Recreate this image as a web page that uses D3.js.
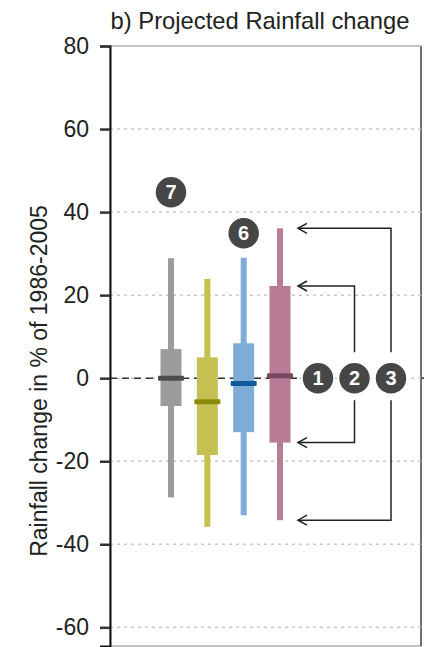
<!DOCTYPE html>
<html>
<head>
<meta charset="utf-8">
<script src="https://cdn.jsdelivr.net/npm/d3@7"></script>
<style>
  html, body { margin: 0; padding: 0; background: #fff; }
  svg { display: block; font-family: "Liberation Sans", Arial, sans-serif; }
</style>
</head>
<body>
<svg id="chart" width="424" height="647"></svg>
<script>
// Projected rainfall change (% of 1986-2005), one box per scenario group
const categories = ["grey", "yellow", "blue", "pink"];
const whiskerLow = [-28.7, -35.8, -33.0, -34.2];
const boxLow     = [-6.7, -18.5, -13.0, -15.5];
const medians    = [0.0, -5.7, -1.3, 0.6];
const boxHigh    = [7.0, 5.0, 8.4, 22.2];
const whiskerHigh= [28.9, 23.9, 29.0, 36.1];
const boxColors    = ["#9c9c9c", "#c4c152", "#7eabd8", "#b77b95"];
const medianColors = ["#4d4d4d", "#8c8a0c", "#12589a", "#7b4660"];
const yTicks = [80, 60, 40, 20, 0, -20, -40, -60];

// numbered markers: label, category it sits over, value height
const markerLabels = ["7", "6"];
const markerCats   = ["grey", "blue"];
const markerValues = [44.8, 34.9];
const bracketLabels = ["1", "2", "3"];

const svg = d3.select("#chart");
const plotLeft = 110, plotRight = 421, plotTop = 46, plotBottom = 646;

const y = d3.scaleLinear().domain([-64.5, 80]).range([plotBottom, plotTop]);
const x = d3.scalePoint().domain(categories).range([171, 280]);

// frame
svg.append("rect")
  .attr("x", plotLeft).attr("y", plotTop)
  .attr("width", plotRight - plotLeft).attr("height", plotBottom - plotTop)
  .attr("fill", "none").attr("stroke", "#9a9a9a").attr("stroke-width", 1.2);
svg.append("line")
  .attr("x1", plotRight).attr("x2", plotRight).attr("y1", plotTop).attr("y2", plotBottom)
  .attr("stroke", "#555").attr("stroke-width", 1.5);

// dotted grid
svg.append("g").selectAll("line").data(yTicks).join("line")
  .attr("x1", plotLeft).attr("x2", plotRight)
  .attr("y1", d => y(d)).attr("y2", d => y(d))
  .attr("stroke", "#c8c8c8").attr("stroke-width", 1.5)
  .attr("stroke-dasharray", "3,4");

// zero reference line
svg.append("line")
  .attr("x1", plotLeft).attr("x2", 300)
  .attr("y1", y(0)).attr("y2", y(0))
  .attr("stroke", "#333").attr("stroke-width", 1.5)
  .attr("stroke-dasharray", "7,5");

// left axis
const yAxis = d3.axisLeft(y).tickValues(yTicks).tickSize(10).tickPadding(11)
  .tickFormat(d => String(d));
const gAxis = svg.append("g").attr("transform", `translate(${plotLeft},0)`).call(yAxis);
gAxis.select(".domain").attr("stroke", "#111").attr("stroke-width", 2);
gAxis.selectAll(".tick line").attr("stroke", "#333").attr("stroke-width", 2.5);
gAxis.selectAll(".tick text")
  .attr("font-size", 23).attr("fill", "#222")
  .attr("font-family", "Liberation Sans, Arial, sans-serif");

// right tick at zero
svg.append("line")
  .attr("x1", plotRight).attr("x2", plotRight + 4)
  .attr("y1", y(0)).attr("y2", y(0))
  .attr("stroke", "#333").attr("stroke-width", 1.5);

// title
svg.append("text")
  .attr("x", 260).attr("y", 29)
  .attr("text-anchor", "middle")
  .attr("font-size", 23.8).attr("fill", "#222")
  .text("b) Projected Rainfall change");

// axis label
svg.append("text")
  .attr("transform", `translate(47,381) rotate(-90)`)
  .attr("text-anchor", "middle")
  .attr("font-size", 23).attr("fill", "#222")
  .text("Rainfall change in % of 1986-2005");

// boxes
const bw = 21, ww = 6, mw = 26, mh = 5;
const g = svg.append("g");
categories.forEach((c, i) => {
  const cx = x(c);
  g.append("rect")
    .attr("x", cx - ww / 2).attr("width", ww)
    .attr("y", y(whiskerHigh[i])).attr("height", y(whiskerLow[i]) - y(whiskerHigh[i]))
    .attr("fill", boxColors[i]);
  g.append("rect")
    .attr("x", cx - bw / 2).attr("width", bw)
    .attr("y", y(boxHigh[i])).attr("height", y(boxLow[i]) - y(boxHigh[i]))
    .attr("fill", boxColors[i]);
  g.append("rect")
    .attr("x", cx - mw / 2).attr("width", mw)
    .attr("y", y(medians[i]) - mh / 2).attr("height", mh)
    .attr("rx", 1)
    .attr("fill", medianColors[i]);
});

// brackets pointing at the pink box range
const pinkIdx = categories.length - 1;
const pinkX = x(categories[pinkIdx]);
const bx = bracketLabels.map((d, i) => pinkX + 38 + i * 36.5);
const tipX = pinkX + 18;
const r = 16;
function arrowBracket(colX, vTop, vBot) {
  const p = svg.append("g").attr("fill", "none").attr("stroke", "#222").attr("stroke-width", 1.5);
  p.append("path").attr("d", `M${colX},${y(0) - r - 10}V${y(vTop)}H${tipX}`);
  p.append("path").attr("d", `M${colX},${y(0) + r + 6}V${y(vBot)}H${tipX}`);
  [vTop, vBot].forEach(v => {
    p.append("path").attr("d", `M${tipX + 9},${y(v) - 5}L${tipX},${y(v)}L${tipX + 9},${y(v) + 5}`);
  });
}
arrowBracket(bx[1], boxHigh[pinkIdx], boxLow[pinkIdx]);
arrowBracket(bx[2], whiskerHigh[pinkIdx], whiskerLow[pinkIdx]);

function badge(cx, cy, label) {
  svg.append("circle").attr("cx", cx).attr("cy", cy).attr("r", r)
    .attr("fill", "#464646").attr("stroke", "#fff").attr("stroke-width", 1.5);
  svg.append("text").attr("x", cx).attr("y", cy + 7)
    .attr("text-anchor", "middle").attr("font-size", 20).attr("font-weight", "bold")
    .attr("fill", "#fff").text(label);
}
bracketLabels.forEach((l, i) => badge(bx[i], y(0), l));
markerLabels.forEach((l, i) => badge(x(markerCats[i]), y(markerValues[i]), l));
</script>
</body>
</html>
